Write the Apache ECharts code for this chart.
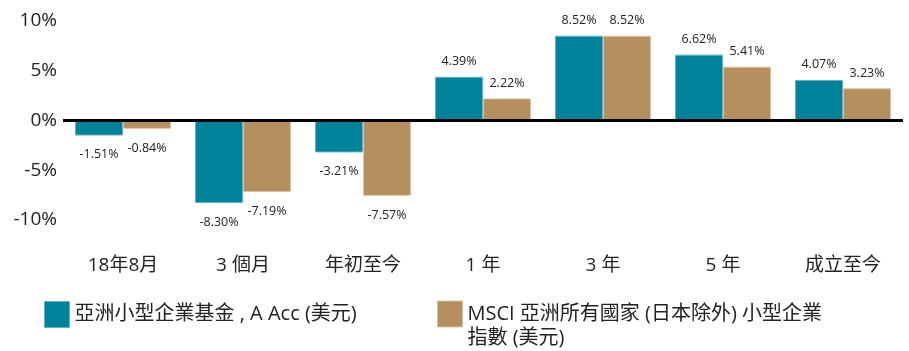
<!DOCTYPE html>
<html>
<head>
<meta charset="utf-8">
<script src="https://cdn.jsdelivr.net/npm/echarts@6/dist/echarts.min.js"></script>
<style>
  html, body { margin: 0; padding: 0; background: #fff; }
  #chart { width: 909px; height: 351px; }
</style>
</head>
<body>
<div id="chart"></div>
<script>
// Periods shown along the bottom
const categories = ['18年8月', '3 個月', '年初至今', '1 年', '3 年', '5 年', '成立至今'];

// Series names
const fundName = '亞洲小型企業基金 , A Acc (美元)';
const indexName = 'MSCI 亞洲所有國家 (日本除外) 小型企業 指數 (美元)';

// Returns in percent
const fundValues = [-1.51, -8.30, -3.21, 4.39, 8.52, 6.62, 4.07];
const indexValues = [-0.84, -7.19, -7.57, 2.22, 8.52, 5.41, 3.23];

// Y axis ticks
const yMin = -10, yMax = 10, yStep = 5;

const FONT = '"Open Sans", "Noto Sans CJK TC", sans-serif';
const TEAL = '#00829B';
const TAN = '#B58F5E';

function toItems(values) {
  return values.map(v => ({
    value: v,
    label: { position: v < 0 ? 'bottom' : 'top', distance: v < 0 ? 13 : 9 }
  }));
}

const labelStyle = {
  show: true,
  fontFamily: FONT,
  fontSize: 12.5,
  color: '#222',
  formatter: p => p.value.toFixed(2) + '%'
};

const legendText = { fontFamily: FONT, fontSize: 20, color: '#222', lineHeight: 24 };

const chart = echarts.init(document.getElementById('chart'), null, { renderer: 'canvas' });

chart.setOption({
  animation: false,
  backgroundColor: '#fff',
  grid: { left: 63, right: 6, top: 21, bottom: 131 },
  legend: [
    {
      data: [fundName],
      left: 44, top: 301,
      padding: 0,
      itemWidth: 25, itemHeight: 26,
      icon: 'rect',
      itemStyle: { borderColor: '#5fb3c4', borderWidth: 1 },
      textStyle: legendText,
      selectedMode: false
    },
    {
      data: [indexName],
      left: 437, top: 278,
      padding: 0,
      itemWidth: 25, itemHeight: 26,
      icon: 'rect',
      itemStyle: { borderColor: '#dcc4a2', borderWidth: 1 },
      // blank first line keeps the title line level with the swatch
      formatter: () => '\nMSCI 亞洲所有國家 (日本除外) 小型企業\n指數 (美元)',
      textStyle: legendText,
      selectedMode: false
    }
  ],
  xAxis: {
    type: 'category',
    data: categories,
    axisLine: { show: false },
    axisTick: { show: false },
    axisLabel: { margin: 36, fontFamily: FONT, fontSize: 19, color: '#222' }
  },
  yAxis: {
    type: 'value',
    min: yMin, max: yMax, interval: yStep,
    axisLine: { show: false },
    axisTick: { show: false },
    splitLine: { show: false },
    axisLabel: {
      margin: 6,
      fontFamily: FONT, fontSize: 19, color: '#222',
      formatter: v => v + '%'
    }
  },
  series: [
    {
      name: fundName,
      type: 'bar',
      data: toItems(fundValues),
      barGap: '0%',
      barCategoryGap: '20%',
      itemStyle: { color: TEAL, borderColor: '#5fb3c4', borderWidth: 1 },
      label: labelStyle,
      markLine: {
        silent: true,
        symbol: 'none',
        label: { show: false },
        lineStyle: { color: '#000', width: 3, type: 'solid' },
        data: [{ yAxis: 0 }],
        z: 10
      }
    },
    {
      name: indexName,
      type: 'bar',
      data: toItems(indexValues),
      barGap: '0%',
      barCategoryGap: '20%',
      itemStyle: { color: TAN, borderColor: '#dcc4a2', borderWidth: 1 },
      label: labelStyle
    }
  ]
});
</script>
</body>
</html>
